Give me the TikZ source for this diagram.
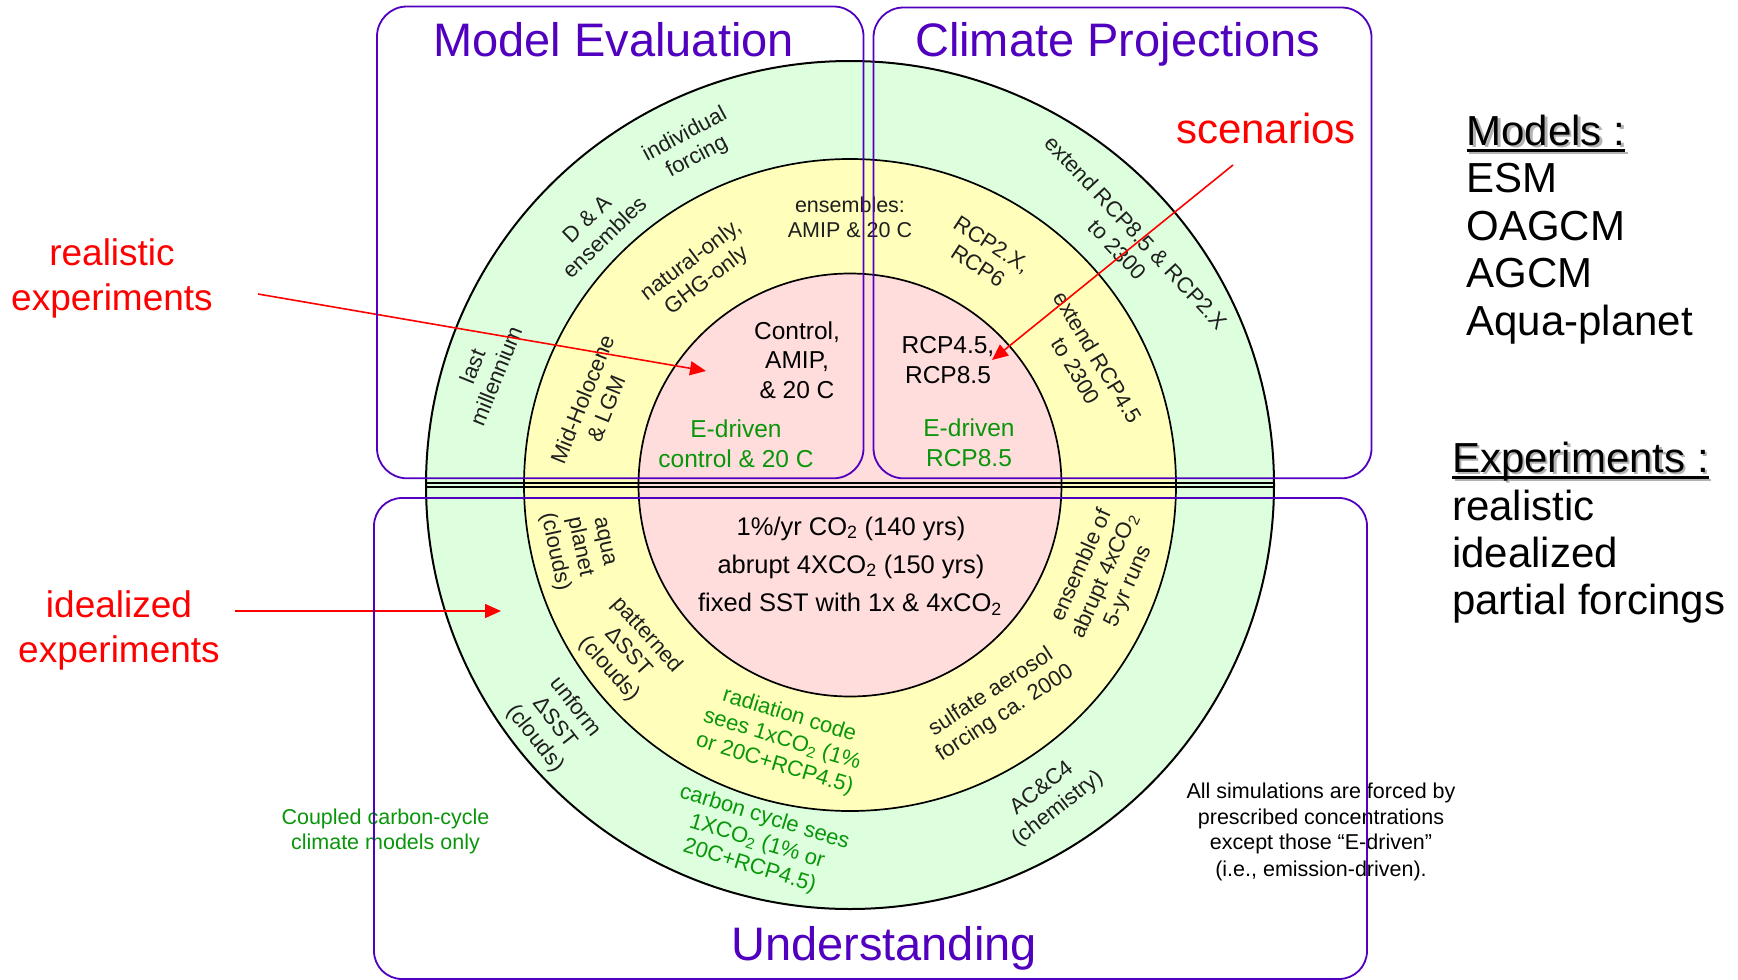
\documentclass[tikz,border=0pt]{standalone}
\usepackage{fontspec}
\setmainfont{Liberation Sans}
\usetikzlibrary{arrows.meta}
\definecolor{ringgreen}{RGB}{222,255,222}
\definecolor{ringyellow}{RGB}{255,255,187}
\definecolor{ringpink}{RGB}{255,221,221}
\definecolor{boxpurple}{RGB}{80,0,190}
\definecolor{labgreen}{RGB}{10,150,10}
\definecolor{labred}{RGB}{255,0,0}
\newcommand\fsz[2]{\fontsize{#1}{#2}\selectfont}
\begin{document}
\begin{tikzpicture}[x=1pt,y=-1pt,
  every node/.style={inner sep=0pt, outer sep=0pt},
  ringtxt/.style={font=\fsz{22}{25.5}, align=center, text=black!88},
  ringgrn/.style={ringtxt, text=labgreen},
  mytitle/.style={font=\fsz{47}{56}, text=boxpurple, anchor=base},
  myred/.style={font=\fsz{37}{45}, text=labred, anchor=base},
  mylist/.style={font=\fsz{42}{48}, anchor=base west},
  mynote/.style={font=\fsz{21.5}{26}, anchor=base},
  myinner/.style={font=\fsz{24.5}{30}, anchor=base},
  mycore/.style={font=\fsz{25.5}{38}, anchor=base},
  mybox/.style={draw=boxpurple, line width=1.8pt, rounded corners=30pt},
  redarrow/.style={draw=labred, line width=1.6pt, -{Triangle[length=16pt,width=14pt]}},
]
\fill[white] (0,0) rectangle (1738,980);
\useasboundingbox (0,0) rectangle (1738,980);

% rings
\coordinate (c) at (850,485);
\draw[fill=ringgreen, line width=2pt] (c) circle[radius=424pt];
\draw[fill=ringyellow, line width=1.7pt] (c) circle[radius=326pt];
\draw[fill=ringpink, line width=1.7pt] (c) circle[radius=211.5pt];
\coordinate (hlA) at (426,482.9); \coordinate (hrA) at (1274,482.9);
\coordinate (hlB) at (426,487.1); \coordinate (hrB) at (1274,487.1);
\draw[line width=1.8pt] (hlA) -- (hrA);
\draw[line width=1.8pt] (hlB) -- (hrB);

% titles
\node[mytitle] (tME) at (613.6,56) {Model Evaluation};
\node[mytitle] (tCP) at (1117.6,56) {Climate Projections};
\node[mytitle] (tU) at (884,960) {Understanding};

% outer ring, top half
\node[ringtxt, rotate=28] (indiv) at (691,146) {individual\\forcing};
\node[ringtxt, rotate=44] (dna) at (596,228) {D \& A\\ensembles};
\node[ringtxt, rotate=68] (lastm) at (484,371) {last\\millennium};
\node[ringtxt, rotate=-47] (ext85) at (1127,241) {extend RCP8.5 \& RCP2.X\\to 2300};

% yellow ring, top half
\node[ringtxt, rotate=37] (natonly) at (699,271) {natural-only,\\GHG-only};
\node[ringtxt, rotate=68] (midhol) at (594,404) {Mid-Holocene\\\& LGM};
\node[ringtxt, font=\fsz{21.5}{25}, anchor=base] (ens1) at (850,212) {ensembles:};
\node[ringtxt, font=\fsz{21.5}{25}, anchor=base] (ens2) at (850,237) {AMIP \& 20 C};
\node[ringtxt, rotate=-33] (rcp2x) at (985,255) {RCP2.X,\\RCP6};
\node[ringtxt, rotate=-59] (ext45) at (1087,364) {extend RCP4.5\\to 2300};

% pink, top half
\node[myinner] (ctl1) at (797,339) {Control,};
\node[myinner] (ctl2) at (797,368.5) {AMIP,};
\node[myinner] (ctl3) at (797,398) {\& 20 C};
\node[myinner] (rcpA) at (948,353) {RCP4.5,};
\node[myinner] (rcpB) at (948,383) {RCP8.5};
\node[myinner, text=labgreen] (edA) at (736,437) {E-driven};
\node[myinner, text=labgreen] (edB) at (736,467) {control \& 20 C};
\node[myinner, text=labgreen] (edC) at (969,436) {E-driven};
\node[myinner, text=labgreen] (edD) at (969,466.5) {RCP8.5};

% pink, bottom half
\node[mycore] (k1) at (851,535) {1\%/yr CO\textsubscript{2} (140 yrs)};
\node[mycore] (k2) at (851,573) {abrupt 4XCO\textsubscript{2} (150 yrs)};
\node[mycore] (k3) at (850,611.5) {fixed SST with 1x \& 4xCO\textsubscript{2}};

% yellow ring, bottom half
\node[ringtxt, rotate=-78] (aqua) at (578,547) {aqua\\planet\\(clouds)};
\node[ringtxt, rotate=-48] (patt) at (628,652) {patterned\\ΔSST\\(clouds)};
\node[ringgrn, rotate=-17] (radc) at (782,740) {radiation code\\sees 1xCO\textsubscript{2} (1\%\\or 20C+RCP4.5)};
\node[ringtxt, rotate=33] (sulf) at (998,703) {sulfate aerosol\\forcing ca. 2000};
\node[ringtxt, rotate=66] (ensab) at (1105,576) {ensemble of\\abrupt 4xCO\textsubscript{2}\\5-yr runs};

% outer ring, bottom half
\node[ringtxt, rotate=-52] (unif) at (555,723) {unform\\ΔSST\\(clouds)};
\node[ringgrn, rotate=-17] (carb) at (757,842) {carbon cycle sees\\1XCO\textsubscript{2} (1\% or\\20C+RCP4.5)};
\node[ringtxt, rotate=38] (acc4) at (1050,799) {AC\&C4\\(chemistry)};

% red labels and arrows
\node[myred] (realA) at (112,265) {realistic};
\node[myred] (realB) at (112,310) {experiments};
\node[myred] (idA) at (119,617) {idealized};
\node[myred] (idB) at (119,662) {experiments};
\node[myred, font=\fsz{42}{48}] (scen) at (1266,143) {scenarios};
\coordinate (realS) at (258,294); \coordinate (realT) at (706,371);
\coordinate (idS) at (235,611); \coordinate (idT) at (501,611);
\coordinate (scS) at (1233,165); \coordinate (scT) at (992,360);
\draw[redarrow] (realS) -- (realT);
\draw[redarrow] (idS) -- (idT);
\draw[redarrow] (scS) -- (scT);

% notes
\node[mynote, text=labgreen] (cc1) at (385.5,824.3) {Coupled carbon-cycle};
\node[mynote, text=labgreen] (cc2) at (385.5,849) {climate models only};
\node[mynote] (as1) at (1321,798.3) {All simulations are forced by};
\node[mynote] (as2) at (1321,824) {prescribed concentrations};
\node[mynote] (as3) at (1321,849.3) {except those “E-driven”};
\node[mynote] (as4) at (1321,876) {(i.e., emission-driven).};

% right-hand lists
\node[mylist, text=black!30] (modsh) at (1469,147.5) {Models :};
\draw[black!30, line width=2.6pt] ([yshift=-5.5pt]modsh.base west) -- ([yshift=-5.5pt]modsh.base east);
\node[mylist] (models) at (1466.5,145) {Models :};
\draw[line width=2.6pt] ([yshift=-5.5pt]models.base west) -- ([yshift=-5.5pt]models.base east);
\node[mylist] (esm) at (1466.5,192.5) {ESM};
\node[mylist] (oagcm) at (1466.5,240) {OAGCM};
\node[mylist] (agcm) at (1466.5,287.5) {AGCM};
\node[mylist] (aquap) at (1466.5,335) {Aqua-planet};

\node[mylist, text=black!30] (expsh) at (1454.5,474.5) {Experiments :};
\draw[black!30, line width=2.6pt] ([yshift=-5.5pt]expsh.base west) -- ([yshift=-5.5pt]expsh.base east);
\node[mylist] (exps) at (1452,472) {Experiments :};
\draw[line width=2.6pt] ([yshift=-5.5pt]exps.base west) -- ([yshift=-5.5pt]exps.base east);
\node[mylist] (erea) at (1452,520) {realistic};
\node[mylist] (eide) at (1452,567) {idealized};
\node[mylist] (epar) at (1452,614) {partial forcings};

% purple boxes
\draw[mybox] (377,6.5) rectangle (863.5,478.3);
\draw[mybox] (873.5,7.5) rectangle (1371.5,478.3);
\draw[mybox, rounded corners=28pt] (374,498) rectangle (1367,979);
\end{tikzpicture}
\end{document}
